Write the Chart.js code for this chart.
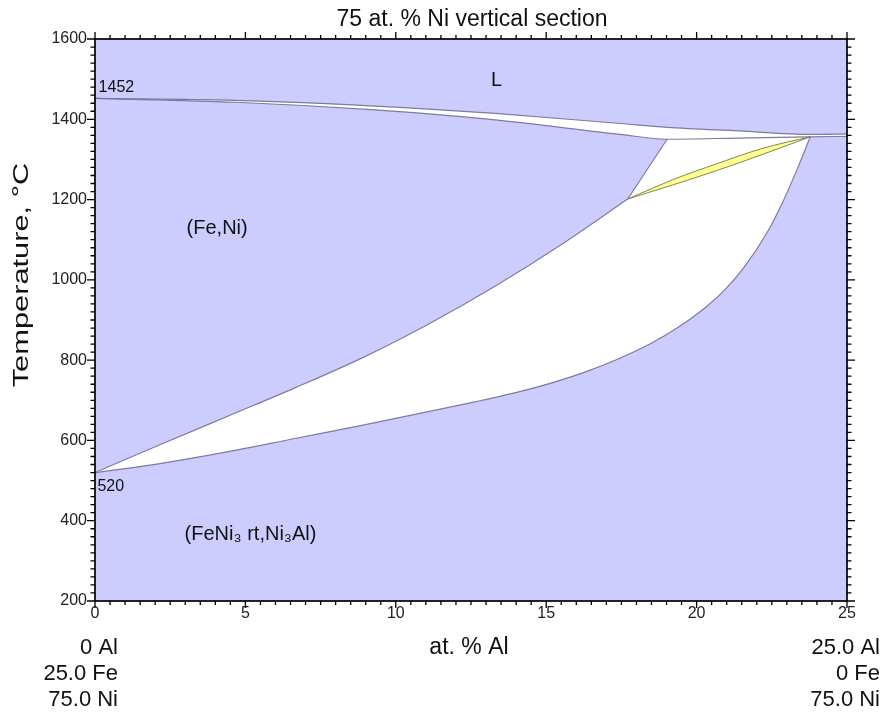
<!DOCTYPE html>
<html>
<head>
<meta charset="utf-8">
<script src="https://cdn.jsdelivr.net/npm/chart.js@4.4.1/dist/chart.umd.min.js"></script>
<style>
  html, body { margin: 0; padding: 0; background: #ffffff; }
  #wrap { width: 886px; height: 713px; }
</style>
</head>
<body>
<div id="wrap"><canvas id="c" width="886" height="713"></canvas></div>
<script>
// ---------------- data ----------------
const xTickValues = [0, 5, 10, 15, 20, 25];
const yTickValues = [200, 400, 600, 800, 1000, 1200, 1400, 1600];

// liquidus: L / L+(Fe,Ni)
const liquidusX = [0, 4.67, 9.32, 13.31, 17.46, 19.02, 21.41, 23.78, 25];
const liquidusT = [1452, 1447, 1433, 1414.5, 1389.5, 1380, 1371, 1362.3, 1363.5];

// solidus of (Fe,Ni) + three-phase line + solidus of the aluminide
const lowerBandX = [0, 4.67, 9.32, 13.31, 17.46, 19.02, 21.4, 23.78, 25];
const lowerBandT = [1452, 1442.4, 1423.3, 1398.4, 1362.3, 1350.3, 1353.3, 1356.3, 1357.5];

// (Fe,Ni) / (Fe,Ni)+(FeNi3 rt,Ni3Al) boundary
const gammaSolvusX = [0, 2.217, 4.432, 6.649, 8.866, 11.08, 13.30, 15.52, 17.71];
const gammaSolvusT = [520, 591, 661, 731, 805, 889.5, 984, 1088.6, 1201.4];

// upper edge of the two-phase field above 1200 °C
const upperEdgeX = [17.71, 19.02, 23.78];
const upperEdgeT = [1201.4, 1350.3, 1356.3];

// (FeNi3 rt,Ni3Al) boundary
const gammaPrimeX = [0, 2.217, 4.432, 6.649, 8.866, 11.08, 12.63, 14.02, 15.13, 16.24, 17.33, 18.46, 19.35, 20.22, 20.91, 21.55, 22.33, 22.88, 23.34, 23.78];
const gammaPrimeT = [520, 543, 571.9, 604.8, 637.5, 671.6, 696, 719.9, 742.3, 769, 800.9, 840.7, 879.8, 926.9, 973.2, 1028.5, 1116, 1196.7, 1275.2, 1356.3];

// yellow three-phase lens
const lensUpperX = [17.71, 19.19, 20.70, 22.21, 23.78];
const lensUpperT = [1201.4, 1249, 1290, 1328, 1356.3];
const lensLowerX = [17.71, 19.19, 20.70, 22.21, 23.78];
const lensLowerT = [1201.4, 1236, 1273, 1313, 1356.3];

// text
const titleText = '75 at. % Ni vertical section';
const yTitleText = 'Temperature, °C';
const xTitleText = 'at. % Al';
const leftComposition = ['0 Al', '25.0 Fe', '75.0 Ni'];
const rightComposition = ['25.0 Al', '0 Fe', '75.0 Ni'];
const regionLabels = ['L', '(Fe,Ni)', '(FeNi\u2083 rt,Ni\u2083Al)'];
const regionLabelX = [13.35, 4.06, 5.17];
const regionLabelT = [1497, 1129, 365];
const pointLabels = ['1452', '520'];
const pointLabelX = [0.12, 0.08];
const pointLabelT = [1478, 485];

// ---------------- helpers ----------------
function pts(xs, ts) { return xs.map((x, i) => ({ x: x, y: ts[i] })); }

const LINE = 'rgba(118,118,150,0.95)';
const BLUE = '#ccccff';
const FONT = '"Liberation Sans", Arial, Helvetica, sans-serif';

// white two-phase field below: left boundary + upper edge, filled down to the gamma-prime boundary
const lowerFieldX = gammaSolvusX.concat(upperEdgeX.slice(1));
const lowerFieldT = gammaSolvusT.concat(upperEdgeT.slice(1));

const datasets = [
  { // 0 yellow lens upper -> lower
    data: pts(lensUpperX, lensUpperT), fill: 1, backgroundColor: '#ffff8c',
    borderColor: 'rgba(125,125,85,0.95)', borderWidth: 1, cubicInterpolationMode: 'monotone'
  },
  { // 1 lens lower
    data: pts(lensLowerX, lensLowerT), fill: false,
    borderColor: 'rgba(125,125,85,0.95)', borderWidth: 1, cubicInterpolationMode: 'monotone'
  },
  { // 2 liquidus, fill to lower band
    data: pts(liquidusX, liquidusT), fill: 3, backgroundColor: '#ffffff',
    borderColor: LINE, borderWidth: 1.2, cubicInterpolationMode: 'monotone'
  },
  { // 3 lower band
    data: pts(lowerBandX, lowerBandT), fill: false,
    borderColor: LINE, borderWidth: 1.2, cubicInterpolationMode: 'monotone'
  },
  { // 4 white field (fill only)
    data: pts(lowerFieldX, lowerFieldT), fill: 7, backgroundColor: '#ffffff',
    borderWidth: 0, borderColor: 'rgba(0,0,0,0)', tension: 0
  },
  { // 5 gamma solvus line
    data: pts(gammaSolvusX, gammaSolvusT), fill: false,
    borderColor: LINE, borderWidth: 1.2, cubicInterpolationMode: 'monotone'
  },
  { // 6 steep upper edge line
    data: pts(upperEdgeX.slice(0, 2), upperEdgeT.slice(0, 2)), fill: false,
    borderColor: LINE, borderWidth: 1.2, tension: 0
  },
  { // 7 gamma prime boundary
    data: pts(gammaPrimeX, gammaPrimeT), fill: false,
    borderColor: LINE, borderWidth: 1.2, cubicInterpolationMode: 'monotone'
  }
];
datasets.forEach(d => { d.pointRadius = 0; d.pointHoverRadius = 0; d.showLine = true; });

const backgroundPlugin = {
  id: 'background',
  beforeDraw(chart) {
    const { ctx, chartArea: a } = chart;
    ctx.save();
    ctx.fillStyle = '#ffffff';
    ctx.fillRect(0, 0, chart.width, chart.height);
    ctx.fillStyle = BLUE;
    ctx.fillRect(a.left, a.top, a.right - a.left, a.bottom - a.top);
    ctx.restore();
  }
};

const framePlugin = {
  id: 'frame',
  afterDatasetsDraw(chart) {
    const { ctx, chartArea: a, scales } = chart;
    const xs = scales.x, ys = scales.y;
    ctx.save();
    ctx.strokeStyle = '#000';
    ctx.lineWidth = 1.7;
    ctx.strokeRect(a.left, a.top, a.right - a.left, a.bottom - a.top);
    ctx.lineWidth = 1.3;
    ctx.beginPath();
    for (let i = 0; i <= 50; i++) {
      const v = i * 0.5;
      const major = i % 10 === 0;
      const len = major ? 7 : 4;
      const px = xs.getPixelForValue(v);
      ctx.moveTo(px, a.bottom); ctx.lineTo(px, a.bottom + len);
      ctx.moveTo(px, a.top); ctx.lineTo(px, a.top - len);
    }
    for (let i = 0; i <= 70; i++) {
      const t = 200 + i * 20;
      const major = i % 10 === 0;
      const len = major ? 8 : 4.5;
      const py = ys.getPixelForValue(t);
      ctx.moveTo(a.left - len, py); ctx.lineTo(a.left, py);
      ctx.moveTo(a.right, py); ctx.lineTo(a.right + len, py);
    }
    ctx.stroke();
    ctx.restore();
  }
};

const textPlugin = {
  id: 'texts',
  afterDraw(chart) {
    const { ctx, chartArea: a, scales } = chart;
    const xs = scales.x, ys = scales.y;
    ctx.save();
    ctx.fillStyle = '#111';
    ctx.textBaseline = 'middle';
    // title
    ctx.font = '23px ' + FONT;
    ctx.textAlign = 'center';
    ctx.fillText(titleText, (a.left + a.right) / 2 + 1, 20);
    // x title
    ctx.font = '23px ' + FONT;
    ctx.fillText(xTitleText, (a.left + a.right) / 2 - 2, 648);
    // composition labels
    ctx.font = '22px ' + FONT;
    ctx.textAlign = 'right';
    leftComposition.forEach((s, i) => ctx.fillText(s, 118, 648 + i * 26));
    rightComposition.forEach((s, i) => ctx.fillText(s, 880, 648 + i * 26));
    // y title
    ctx.save();
    ctx.font = '22px ' + FONT;
    ctx.translate(22, 275);
    ctx.rotate(-Math.PI / 2);
    ctx.scale(1.4, 1);
    ctx.textAlign = 'center';
    ctx.fillText(yTitleText, 0, 0);
    ctx.restore();
    // region labels
    ctx.font = '20px ' + FONT;
    ctx.textAlign = 'center';
    regionLabels.forEach((s, i) => ctx.fillText(s, xs.getPixelForValue(regionLabelX[i]), ys.getPixelForValue(regionLabelT[i])));
    // point labels
    ctx.font = '16px ' + FONT;
    ctx.textAlign = 'left';
    pointLabels.forEach((s, i) => ctx.fillText(s, xs.getPixelForValue(pointLabelX[i]), ys.getPixelForValue(pointLabelT[i])));
    ctx.restore();
  }
};

new Chart(document.getElementById('c'), {
  type: 'scatter',
  data: { datasets: datasets },
  options: {
    responsive: false,
    animation: false,
    devicePixelRatio: 1,
    layout: { padding: { top: 39, right: 39, left: 0, bottom: 0 } },
    plugins: {
      legend: { display: false },
      tooltip: { enabled: false },
      title: { display: false },
      filler: { drawTime: 'beforeDatasetsDraw' }
    },
    scales: {
      x: {
        type: 'linear', min: 0, max: 25,
        afterFit: (s) => { s.height = 112; },
        afterBuildTicks: (s) => { s.ticks = xTickValues.map(v => ({ value: v })); },
        grid: { display: false, drawTicks: false },
        border: { display: false },
        ticks: { color: '#222', font: { size: 16, family: FONT }, padding: 3, maxRotation: 0, callback: (v) => String(v) }
      },
      y: {
        type: 'linear', min: 200, max: 1600,
        afterFit: (s) => { s.width = 95; },
        afterBuildTicks: (s) => { s.ticks = yTickValues.map(v => ({ value: v })); },
        grid: { display: false, drawTicks: false },
        border: { display: false },
        ticks: { color: '#222', font: { size: 16, family: FONT }, padding: 8, callback: (v) => String(v) }
      }
    }
  },
  plugins: [backgroundPlugin, framePlugin, textPlugin]
});
</script>
</body>
</html>
